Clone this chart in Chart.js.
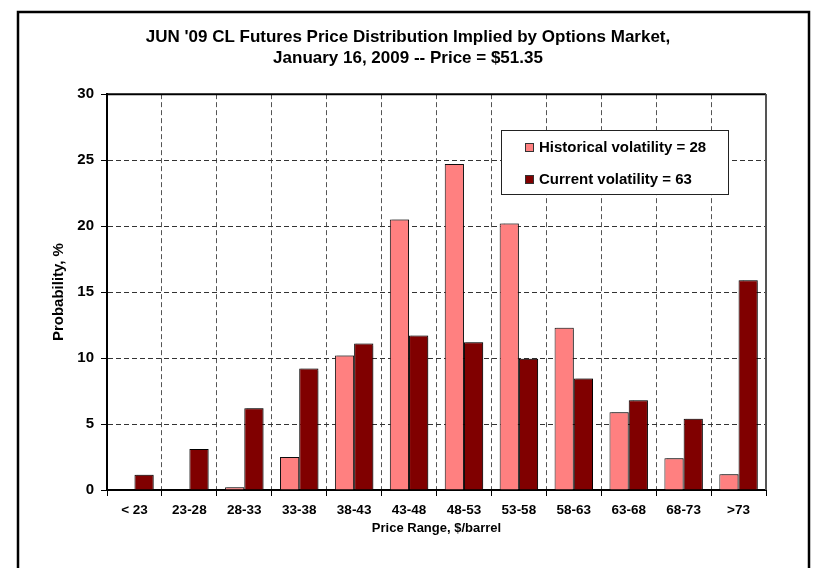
<!DOCTYPE html>
<html>
<head>
<meta charset="utf-8">
<script src="https://cdn.jsdelivr.net/npm/chart.js@4"></script>
<style>
  html, body { margin: 0; padding: 0; background: #fff; }
  #wrap { width: 816px; height: 568px; position: relative; }
</style>
</head>
<body>
<div id="wrap"><canvas id="chart"></canvas></div>
<script>
// Price buckets, $/barrel
const categories = ['< 23', '23-28', '28-33', '33-38', '38-43', '43-48', '48-53', '53-58', '58-63', '63-68', '68-73', '>73'];
// Probability (%) per bucket under each volatility assumption
const historicalVol = [0, 0, 0.2, 2.5, 10.2, 20.5, 24.7, 20.2, 12.3, 5.9, 2.4, 1.2];
const currentVol = [1.15, 3.1, 6.2, 9.2, 11.1, 11.7, 11.2, 9.95, 8.45, 6.8, 5.4, 15.9];
const seriesLabels = ['Historical volatility = 28', 'Current volatility = 63'];
const titleLines = ["JUN '09 CL Futures Price Distribution Implied by Options Market,", 'January 16, 2009 -- Price = $51.35'];

const FONT = 'Arial, "Liberation Sans", sans-serif';

// Outer frame, solid top/right plot edges, bar shadows and the boxed legend
const framePlugin = {
  id: 'frame',
  beforeDatasetsDraw(chart) {
    const { ctx } = chart;
    ctx.save();
    ctx.shadowColor = 'rgba(0,0,0,0.28)';
    ctx.shadowOffsetX = 2;
    ctx.shadowOffsetY = -1;
    ctx.shadowBlur = 1;
  },
  afterDatasetsDraw(chart) {
    const { ctx, chartArea: a } = chart;
    ctx.restore();
    ctx.save();
    ctx.lineWidth = 2;
    ctx.strokeStyle = '#000';
    ctx.beginPath();
    ctx.moveTo(a.left, a.top);
    ctx.lineTo(a.right, a.top);
    ctx.stroke();
    ctx.strokeStyle = '#555';
    ctx.beginPath();
    ctx.moveTo(a.right, a.top);
    ctx.lineTo(a.right, a.bottom);
    ctx.stroke();
    ctx.restore();
  },
  afterDraw(chart) {
    const { ctx } = chart;
    ctx.save();
    ctx.lineWidth = 2.5;
    ctx.strokeStyle = '#000';
    ctx.strokeRect(18, 12, 791, 600);

    // legend box
    const lx = 501, ly = 130, lw = 227, lh = 64;
    ctx.fillStyle = '#fff';
    ctx.fillRect(lx, ly, lw, lh);
    ctx.lineWidth = 1;
    ctx.strokeStyle = '#222';
    ctx.strokeRect(lx + 0.5, ly + 0.5, lw, lh);
    ctx.font = 'bold 15px ' + FONT;
    ctx.textBaseline = 'middle';
    chart.data.datasets.forEach((ds, i) => {
      const cy = ly + 17 + i * 32;
      ctx.fillStyle = ds.backgroundColor;
      ctx.fillRect(525, cy - 4, 8, 8);
      ctx.strokeStyle = '#333';
      ctx.strokeRect(525.5, cy - 3.5, 8, 8);
      ctx.fillStyle = '#000';
      ctx.fillText(ds.label, 539, cy + 1);
    });
    ctx.restore();
  }
};

new Chart(document.getElementById('chart'), {
  type: 'bar',
  data: {
    labels: categories,
    datasets: [
      { label: seriesLabels[0], data: historicalVol, backgroundColor: '#FF8080', borderColor: '#111', borderWidth: 1 },
      { label: seriesLabels[1], data: currentVol, backgroundColor: '#800000', borderColor: '#000', borderWidth: 1 }
    ]
  },
  options: {
    responsive: true,
    maintainAspectRatio: false,
    animation: false,
    devicePixelRatio: 1,
    layout: { padding: { left: 50, right: 50, top: 14, bottom: 28 } },
    datasets: { bar: { categoryPercentage: 0.7, barPercentage: 1.0 } },
    plugins: {
      legend: { display: false },
      tooltip: { enabled: false },
      title: {
        display: true,
        text: titleLines,
        color: '#000',
        font: { family: FONT, size: 17, weight: 'bold', lineHeight: 1.24 },
        padding: { top: 13, bottom: 25 }
      }
    },
    scales: {
      x: {
        afterFit(scale) { scale.height = 50; },
        grid: {
          offset: true,
          color: '#555',
          lineWidth: 1,
          tickLength: 6,
          tickColor: '#000',
          tickBorderDash: []
        },
        border: { display: true, color: '#000', width: 2, dash: [5, 3] },
        ticks: {
          color: '#000',
          padding: 6,
          maxRotation: 0,
          font: { family: FONT, size: 13.5, weight: 'bold' }
        },
        title: {
          display: true,
          text: 'Price Range, $/barrel',
          color: '#000',
          padding: { top: 0, bottom: 4 },
          font: { family: FONT, size: 13, weight: 'bold', lineHeight: 1.2 }
        }
      },
      y: {
        min: 0,
        max: 30,
        afterFit(scale) { scale.width = 57; },
        grid: {
          color: '#333',
          lineWidth: 1,
          tickLength: 6,
          tickColor: '#000',
          tickBorderDash: []
        },
        border: { display: true, color: '#000', width: 2, dash: [5, 3] },
        ticks: {
          stepSize: 5,
          color: '#000',
          padding: 7,
          font: { family: FONT, size: 15, weight: 'bold' }
        },
        title: {
          display: true,
          text: 'Probability, %',
          color: '#000',
          padding: { top: 0, bottom: 0 },
          font: { family: FONT, size: 15, weight: 'bold', lineHeight: 1.2 }
        }
      }
    }
  },
  plugins: [framePlugin]
});
</script>
</body>
</html>
